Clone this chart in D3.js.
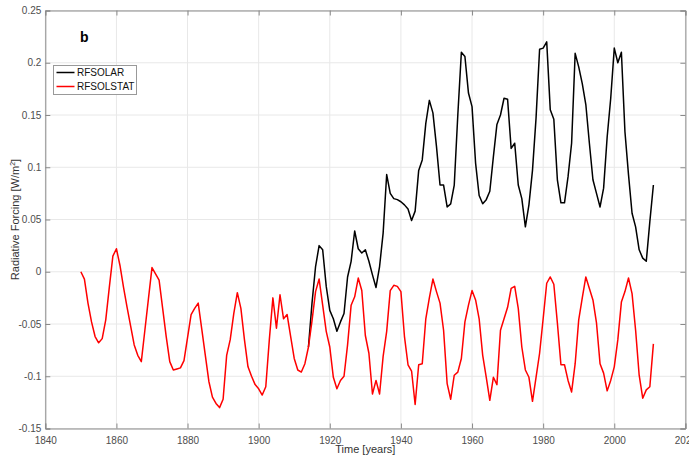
<!DOCTYPE html>
<html>
<head>
<meta charset="utf-8">
<script src="https://cdn.jsdelivr.net/npm/d3@7"></script>
<style>
    body { margin: 0; background: #fff; }
    svg { font-family: 'Liberation Sans', Arial, sans-serif; }
    .tick-label { font-size: 10px; fill: #4d4d4d; }
    .axis-title { font-size: 11px; fill: #333; }
    .legend-text { font-size: 10px; fill: #111; }
</style>
</head>
<body>
<svg width="689" height="457"></svg>
<script>
// RFSOLSTAT, annual values from 1850
var statStart = 1850;
var solStatValues = [
    0.000, -0.007, -0.030, -0.048, -0.062, -0.068, -0.064, -0.046, -0.015, 0.015,
    0.022, 0.006, -0.015, -0.034, -0.052, -0.070, -0.080, -0.086, -0.056, -0.026,
    0.004, -0.002, -0.008, -0.035, -0.062, -0.086, -0.094, -0.093, -0.092, -0.085,
    -0.063, -0.041, -0.035, -0.030, -0.055, -0.080, -0.105, -0.120, -0.126, -0.130,
    -0.122, -0.080, -0.065, -0.040, -0.020, -0.035, -0.065, -0.091, -0.100, -0.108,
    -0.112, -0.118, -0.110, -0.065, -0.025, -0.054, -0.022, -0.045, -0.041, -0.062,
    -0.083, -0.094, -0.096, -0.088, -0.072, -0.047, -0.019, -0.007, -0.032, -0.057,
    -0.072, -0.101, -0.112, -0.104, -0.100, -0.070, -0.032, -0.024, -0.006, -0.018,
    -0.061, -0.078, -0.117, -0.104, -0.117, -0.081, -0.057, -0.018, -0.013, -0.014,
    -0.019, -0.062, -0.089, -0.095, -0.127, -0.089, -0.088, -0.045, -0.025, -0.007,
    -0.019, -0.030, -0.056, -0.107, -0.122, -0.099, -0.096, -0.083, -0.048, -0.032,
    -0.018, -0.027, -0.045, -0.080, -0.101, -0.123, -0.101, -0.108, -0.056, -0.045,
    -0.034, -0.016, -0.014, -0.035, -0.072, -0.094, -0.101, -0.124, -0.101, -0.078,
    -0.045, -0.011, -0.005, -0.012, -0.049, -0.089, -0.089, -0.104, -0.115, -0.088,
    -0.046, -0.025, -0.005, -0.016, -0.027, -0.049, -0.088, -0.097, -0.114, -0.104,
    -0.091, -0.065, -0.029, -0.019, -0.006, -0.021, -0.056, -0.099, -0.121, -0.113,
    -0.110, -0.069
];

// RFSOLAR, annual values from 1914 (same as RFSOLSTAT before that)
var solarStart = 1914;
var solarValues = [
    -0.072, -0.030, 0.005, 0.025, 0.021, -0.014, -0.037, -0.045, -0.057, -0.048,
    -0.040, -0.005, 0.010, 0.039, 0.022, 0.018, 0.021, 0.010, -0.003, -0.015,
    0.005, 0.037, 0.093, 0.075, 0.070, 0.069, 0.067, 0.064, 0.060, 0.049,
    0.058, 0.097, 0.107, 0.142, 0.164, 0.152, 0.120, 0.083, 0.083, 0.062,
    0.065, 0.083, 0.150, 0.210, 0.206, 0.171, 0.158, 0.104, 0.073, 0.065,
    0.069, 0.077, 0.110, 0.141, 0.150, 0.166, 0.165, 0.118, 0.123, 0.083,
    0.070, 0.043, 0.064, 0.097, 0.147, 0.213, 0.214, 0.220, 0.155, 0.146,
    0.088, 0.066, 0.066, 0.091, 0.123, 0.209, 0.196, 0.180, 0.160, 0.123,
    0.088, 0.075, 0.062, 0.080, 0.129, 0.166, 0.214, 0.200, 0.210, 0.134,
    0.093, 0.056, 0.043, 0.021, 0.013, 0.010, 0.048, 0.083
];

var xTicks = [1840, 1860, 1880, 1900, 1920, 1940, 1960, 1980, 2000, 2020];
var yTicks = [-0.15, -0.1, -0.05, 0, 0.05, 0.1, 0.15, 0.2, 0.25];
var seriesNames = ['RFSOLAR', 'RFSOLSTAT'];
var seriesColors = ['#000000', '#ff0000'];

var svg = d3.select('svg');
var padding = {t: 10.5, r: 3.6, b: 28.5, l: 45.3};
var width = +svg.attr('width') - padding.l - padding.r;
var height = +svg.attr('height') - padding.t - padding.b;

var x = d3.scaleLinear().domain([1840, 2020]).range([0, width]);
var y = d3.scaleLinear().domain([-0.15, 0.25]).range([height, 0]);

var g = svg.append('g')
    .attr('transform', 'translate(' + padding.l + ',' + padding.t + ')');

// grid
g.append('g').selectAll('line.vgrid')
    .data(xTicks).enter().append('line')
    .attr('x1', function(d) { return x(d); })
    .attr('x2', function(d) { return x(d); })
    .attr('y1', 0).attr('y2', height)
    .attr('stroke', '#e8e8e8').attr('stroke-width', 1);
g.append('g').selectAll('line.hgrid')
    .data(yTicks).enter().append('line')
    .attr('x1', 0).attr('x2', width)
    .attr('y1', function(d) { return y(d); })
    .attr('y2', function(d) { return y(d); })
    .attr('stroke', '#e8e8e8').attr('stroke-width', 1);

// lines
function toPoints(start, values) {
    return values.map(function(v, i) { return {year: start + i, value: v}; });
}

var line = d3.line()
    .x(function(d) { return x(d.year); })
    .y(function(d) { return y(d.value); });

g.append('path')
    .datum(toPoints(solarStart, solarValues))
    .attr('d', line)
    .attr('fill', 'none')
    .attr('stroke', seriesColors[0])
    .attr('stroke-width', 1.5)
    .attr('stroke-linejoin', 'round');

g.append('path')
    .datum(toPoints(statStart, solStatValues))
    .attr('d', line)
    .attr('fill', 'none')
    .attr('stroke', seriesColors[1])
    .attr('stroke-width', 1.5)
    .attr('stroke-linejoin', 'round');

// axes: matlab style, ticks pointing in, box all round
var yFmt = function(d) { return String(+d.toFixed(2)); };
var axisColor = '#8a8a8a';

var xAxis = g.append('g')
    .attr('transform', 'translate(0,' + height + ')')
    .call(d3.axisBottom(x).tickValues(xTicks).tickFormat(d3.format('d')).tickSize(-5).tickPadding(8));
var xAxisTop = g.append('g')
    .call(d3.axisTop(x).tickValues(xTicks).tickFormat('').tickSize(-5));
var yAxis = g.append('g')
    .call(d3.axisLeft(y).tickValues(yTicks).tickFormat(yFmt).tickSize(-5).tickPadding(4));
var yAxisRight = g.append('g')
    .attr('transform', 'translate(' + width + ',0)')
    .call(d3.axisRight(y).tickValues(yTicks).tickFormat('').tickSize(-5));

[xAxis, xAxisTop, yAxis, yAxisRight].forEach(function(a) {
    a.select('.domain').attr('stroke', axisColor);
    a.selectAll('.tick line').attr('stroke', axisColor);
    a.selectAll('.tick text')
        .attr('class', 'tick-label')
        .attr('font-family', null)
        .attr('font-size', null)
        .attr('fill', null);
    a.attr('font-family', null).attr('font-size', null);
});

// titles
svg.append('text')
    .attr('class', 'axis-title')
    .attr('x', padding.l + width / 2)
    .attr('y', 453)
    .attr('text-anchor', 'middle')
    .text('Time [years]');

var yTitle = svg.append('text')
    .attr('class', 'axis-title')
    .attr('transform', 'translate(19,' + (padding.t + height / 2) + ') rotate(-90)')
    .attr('text-anchor', 'middle')
    .text('Radiative Forcing [W/m');
yTitle.append('tspan').attr('dy', -4).attr('font-size', '7px').text('2');
yTitle.append('tspan').attr('dy', 4).text(']');

svg.append('text')
    .attr('x', 80)
    .attr('y', 42)
    .attr('font-size', '14px')
    .attr('font-weight', 'bold')
    .attr('fill', '#000')
    .text('b');

// legend
var legend = svg.append('g').attr('transform', 'translate(53.5,65.5)');
legend.append('rect')
    .attr('width', 83).attr('height', 29)
    .attr('fill', '#fff')
    .attr('stroke', '#999').attr('stroke-width', 1);
seriesNames.forEach(function(name, i) {
    var row = legend.append('g').attr('transform', 'translate(0,' + (7 + i * 14) + ')');
    row.append('line')
        .attr('x1', 3).attr('x2', 21)
        .attr('y1', 0).attr('y2', 0)
        .attr('stroke', seriesColors[i]).attr('stroke-width', 1.5);
    row.append('text')
        .attr('class', 'legend-text')
        .attr('x', 23.5).attr('y', 3.6)
        .text(name);
});
</script>
</body>
</html>
